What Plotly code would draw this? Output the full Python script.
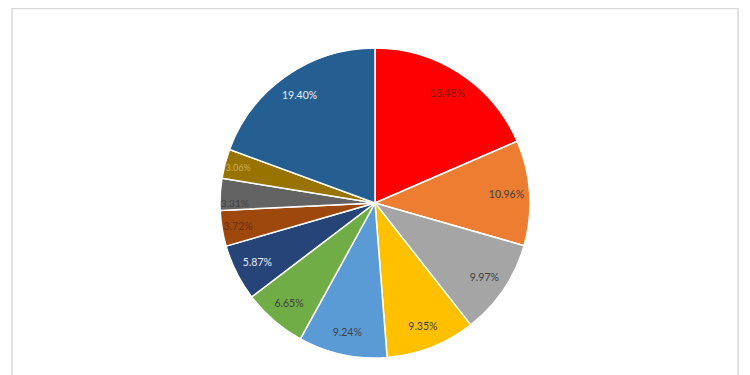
import plotly.graph_objects as go

categories = ["A", "B", "C", "D", "E", "F", "G", "H", "I", "J", "K"]
values = [18.48, 10.96, 9.97, 9.35, 9.24, 6.65, 5.87, 3.72, 3.31, 3.06, 19.40]
colors = ["#FF0000", "#ED7D31", "#A5A5A5", "#FFC000", "#5B9BD5", "#70AD47",
          "#264478", "#9E480E", "#636363", "#997300", "#255E91"]
text_colors = ["#8a1414", "#404040", "#404040", "#404040", "#404040", "#404040",
               "#e8eef8", "#6a3010", "#454545", "#c8ad62", "#e8eef8"]

W, H = 750, 375
# the page body has an 8px offset; positions below are in the figure's own pixels
cx, cy, r = 367, 195, 155
domain = dict(x=[(cx - r) / W, (cx + r) / W], y=[1 - (cy + r) / H, 1 - (cy - r) / H])

fig = go.Figure()
fig.add_trace(go.Pie(
    labels=categories,
    values=values,
    sort=False,
    direction="clockwise",
    rotation=0,
    marker=dict(colors=colors, line=dict(color="#ffffff", width=1.5)),
    textinfo="none",
    showlegend=False,
    hoverinfo="label+percent",
    domain=domain,
))
# transparent ring that carries the percentage labels out near the rim
fig.add_trace(go.Pie(
    labels=categories,
    values=values,
    sort=False,
    direction="clockwise",
    rotation=0,
    hole=0.7,
    marker=dict(colors=["rgba(0,0,0,0)"] * len(values), line=dict(width=0)),
    texttemplate="%{value:.2f}%",
    textposition="inside",
    insidetextorientation="horizontal",
    textfont=dict(family="Lato, Open Sans, sans-serif", size=10.5, color=text_colors),
    showlegend=False,
    hoverinfo="skip",
    domain=domain,
))

fig.update_layout(
    width=W, height=H,
    margin=dict(l=0, r=0, t=0, b=0),
    paper_bgcolor="#ffffff",
    plot_bgcolor="#ffffff",
    shapes=[dict(type="path", xref="paper", yref="paper",
                 path="M 0.0053,-0.02 L 0.0053,0.999 L 0.9733,0.999 L 0.9733,-0.02",
                 line=dict(color="#d9d9d9", width=1.5))],
)

fig.write_html("out.html")
